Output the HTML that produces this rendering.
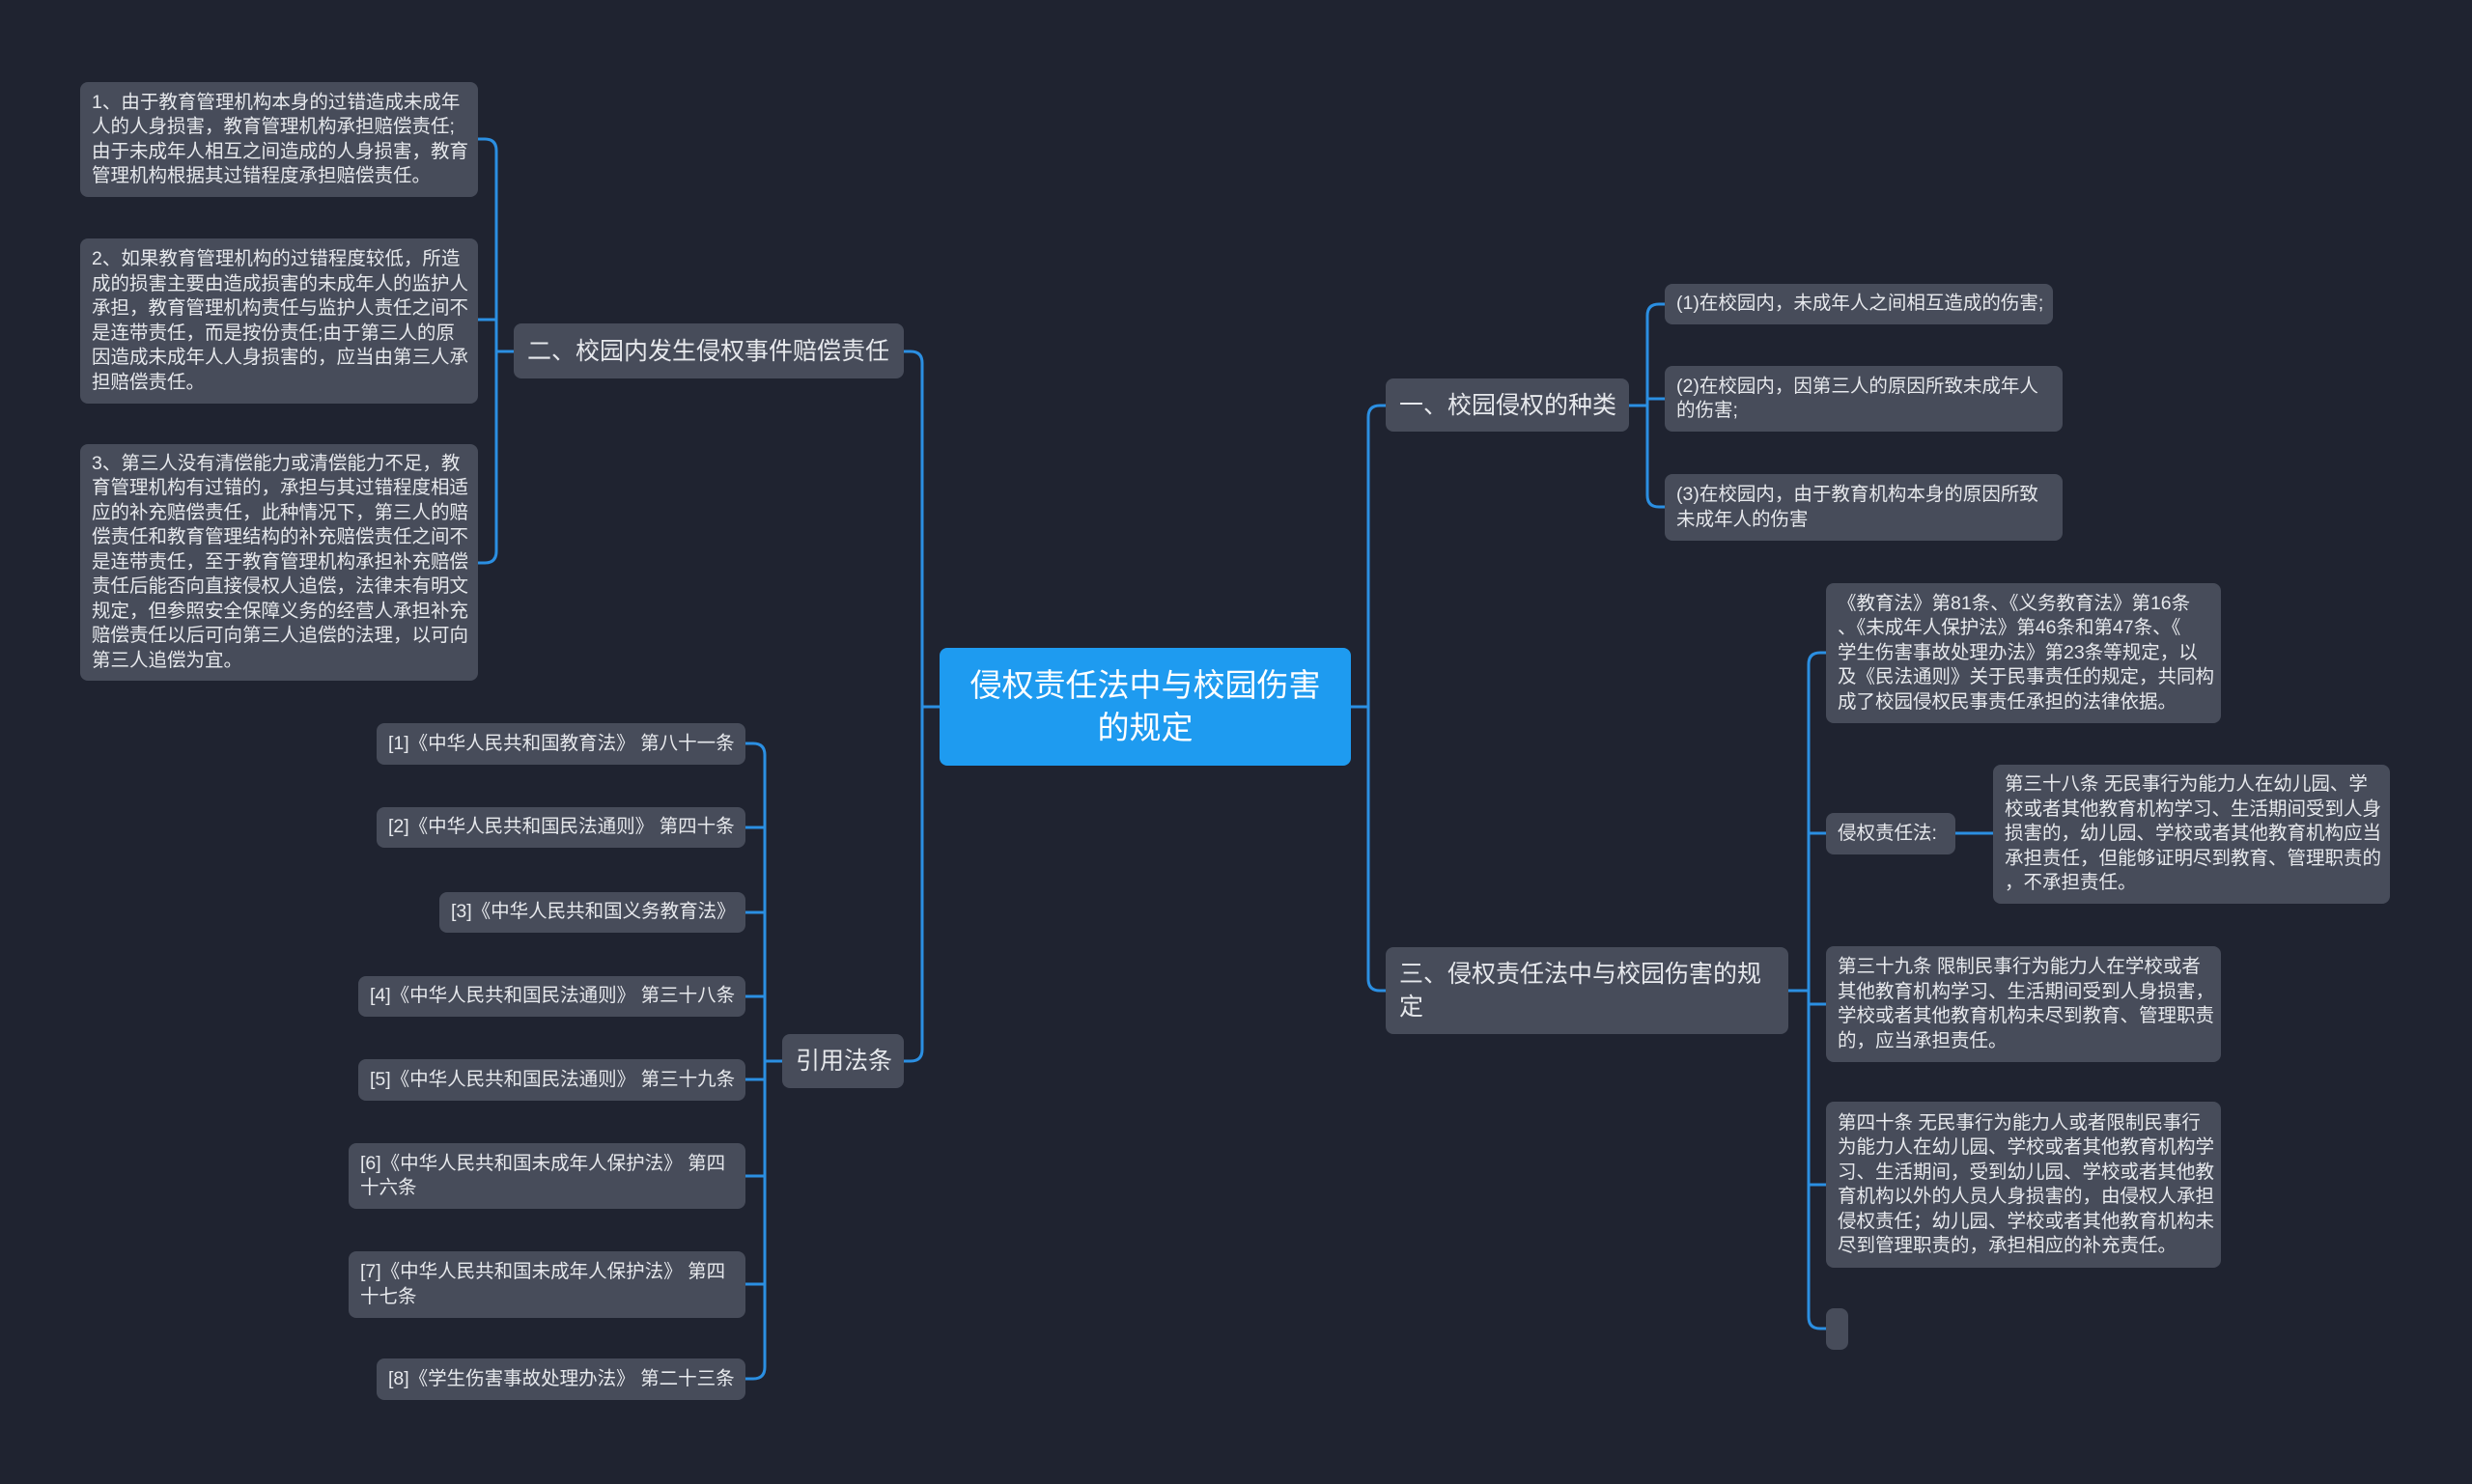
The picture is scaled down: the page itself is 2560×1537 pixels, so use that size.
<!DOCTYPE html>
<html><head><meta charset="utf-8"><style>
body{margin:0;width:2560px;height:1537px;background:#1f2330;position:relative;overflow:hidden;font-family:"Liberation Sans","Noto Sans CJK SC",sans-serif}
.n{position:absolute;background:#474c5a;border-radius:8px;color:#e6e8ec;box-sizing:border-box;display:flex;align-items:center;white-space:nowrap;font-size:19.5px;line-height:25.5px;padding:0 12px}
.b{font-size:25px;line-height:34px;padding:0 14px}
.r{background:#1e9bf0;color:#fff;font-size:33px;line-height:44px;justify-content:center;text-align:center}
svg{position:absolute;left:0;top:0}
</style></head><body>
<svg width="2560" height="1537" fill="none" stroke="#2b8fe2" stroke-width="3">
<path d="M973 732 L955 732 M955 376 L955 1087 M955 376 Q955 364 943 364 L936 364 M955 1087 Q955 1099 943 1099 L936 1099"/>
<path d="M532 364 L514 364 M514 156 L514 571 M514 156 Q514 144 502 144 L495 144 M514 331 L495 331 M514 571 Q514 583 502 583 L495 583"/>
<path d="M810 1099 L792 1099 M792 782 L792 1416 M792 782 Q792 770 780 770 L772 770 M792 857 L772 857 M792 945 L772 945 M792 1032 L772 1032 M792 1118 L772 1118 M792 1218 L772 1218 M792 1330 L772 1330 M792 1416 Q792 1428 780 1428 L772 1428"/>
<path d="M1399 732 L1417 732 M1417 432 L1417 1014 M1417 432 Q1417 420 1429 420 L1435 420 M1417 1014 Q1417 1026 1429 1026 L1435 1026"/>
<path d="M1687 420 L1706 420 M1706 327 L1706 513 M1706 327 Q1706 315 1718 315 L1724 315 M1706 413 L1724 413 M1706 513 Q1706 525 1718 525 L1724 525"/>
<path d="M1852 1026 L1873 1026 M1873 688 L1873 1364 M1873 688 Q1873 676 1885 676 L1891 676 M1873 863 L1891 863 M1873 1040 L1891 1040 M1873 1227 L1891 1227 M1873 1364 Q1873 1376 1885 1376 L1891 1376 M2025 863 L2064 863"/>
</svg>

<div class="n r" style="left:973px;top:671px;width:426px;height:122px">侵权责任法中与校园伤害<br>的规定</div>

<div class="n b" style="left:532px;top:335px;width:404px;height:57px">二、校园内发生侵权事件赔偿责任</div>
<div class="n" style="left:83px;top:85px;width:412px;height:119px">1、由于教育管理机构本身的过错造成未成年<br>人的人身损害，教育管理机构承担赔偿责任;<br>由于未成年人相互之间造成的人身损害，教育<br>管理机构根据其过错程度承担赔偿责任。</div>
<div class="n" style="left:83px;top:247px;width:412px;height:171px">2、如果教育管理机构的过错程度较低，所造<br>成的损害主要由造成损害的未成年人的监护人<br>承担，教育管理机构责任与监护人责任之间不<br>是连带责任，而是按份责任;由于第三人的原<br>因造成未成年人人身损害的，应当由第三人承<br>担赔偿责任。</div>
<div class="n" style="left:83px;top:460px;width:412px;height:245px">3、第三人没有清偿能力或清偿能力不足，教<br>育管理机构有过错的，承担与其过错程度相适<br>应的补充赔偿责任，此种情况下，第三人的赔<br>偿责任和教育管理结构的补充赔偿责任之间不<br>是连带责任，至于教育管理机构承担补充赔偿<br>责任后能否向直接侵权人追偿，法律未有明文<br>规定，但参照安全保障义务的经营人承担补充<br>赔偿责任以后可向第三人追偿的法理，以可向<br>第三人追偿为宜。</div>

<div class="n b" style="left:810px;top:1071px;width:126px;height:56px">引用法条</div>
<div class="n" style="left:390px;top:749px;width:382px;height:43px">[1]《中华人民共和国教育法》 第八十一条</div>
<div class="n" style="left:390px;top:836px;width:382px;height:42px">[2]《中华人民共和国民法通则》 第四十条</div>
<div class="n" style="left:455px;top:924px;width:317px;height:42px">[3]《中华人民共和国义务教育法》</div>
<div class="n" style="left:371px;top:1011px;width:401px;height:42px">[4]《中华人民共和国民法通则》 第三十八条</div>
<div class="n" style="left:371px;top:1097px;width:401px;height:43px">[5]《中华人民共和国民法通则》 第三十九条</div>
<div class="n" style="left:361px;top:1184px;width:411px;height:68px">[6]《中华人民共和国未成年人保护法》 第四<br>十六条</div>
<div class="n" style="left:361px;top:1296px;width:411px;height:69px">[7]《中华人民共和国未成年人保护法》 第四<br>十七条</div>
<div class="n" style="left:390px;top:1407px;width:382px;height:43px">[8]《学生伤害事故处理办法》 第二十三条</div>

<div class="n b" style="left:1435px;top:392px;width:252px;height:55px">一、校园侵权的种类</div>
<div class="n" style="left:1724px;top:294px;width:402px;height:42px">(1)在校园内，未成年人之间相互造成的伤害;</div>
<div class="n" style="left:1724px;top:379px;width:412px;height:68px">(2)在校园内，因第三人的原因所致未成年人<br>的伤害;</div>
<div class="n" style="left:1724px;top:491px;width:412px;height:69px">(3)在校园内，由于教育机构本身的原因所致<br>未成年人的伤害</div>

<div class="n b" style="left:1435px;top:981px;width:417px;height:90px">三、侵权责任法中与校园伤害的规<br>定</div>
<div class="n" style="left:1891px;top:604px;width:409px;height:145px">《教育法》第81条、《义务教育法》第16条<br>、《未成年人保护法》第46条和第47条、《<br>学生伤害事故处理办法》第23条等规定，以<br>及《民法通则》关于民事责任的规定，共同构<br>成了校园侵权民事责任承担的法律依据。</div>
<div class="n" style="left:1891px;top:842px;width:134px;height:43px">侵权责任法:</div>
<div class="n" style="left:2064px;top:792px;width:411px;height:144px">第三十八条 无民事行为能力人在幼儿园、学<br>校或者其他教育机构学习、生活期间受到人身<br>损害的，幼儿园、学校或者其他教育机构应当<br>承担责任，但能够证明尽到教育、管理职责的<br>，不承担责任。</div>
<div class="n" style="left:1891px;top:980px;width:409px;height:120px">第三十九条 限制民事行为能力人在学校或者<br>其他教育机构学习、生活期间受到人身损害，<br>学校或者其他教育机构未尽到教育、管理职责<br>的，应当承担责任。</div>
<div class="n" style="left:1891px;top:1141px;width:409px;height:172px">第四十条 无民事行为能力人或者限制民事行<br>为能力人在幼儿园、学校或者其他教育机构学<br>习、生活期间，受到幼儿园、学校或者其他教<br>育机构以外的人员人身损害的，由侵权人承担<br>侵权责任；幼儿园、学校或者其他教育机构未<br>尽到管理职责的，承担相应的补充责任。</div>
<div class="n" style="left:1891px;top:1355px;width:23px;height:43px;padding:0"></div>
</body></html>
